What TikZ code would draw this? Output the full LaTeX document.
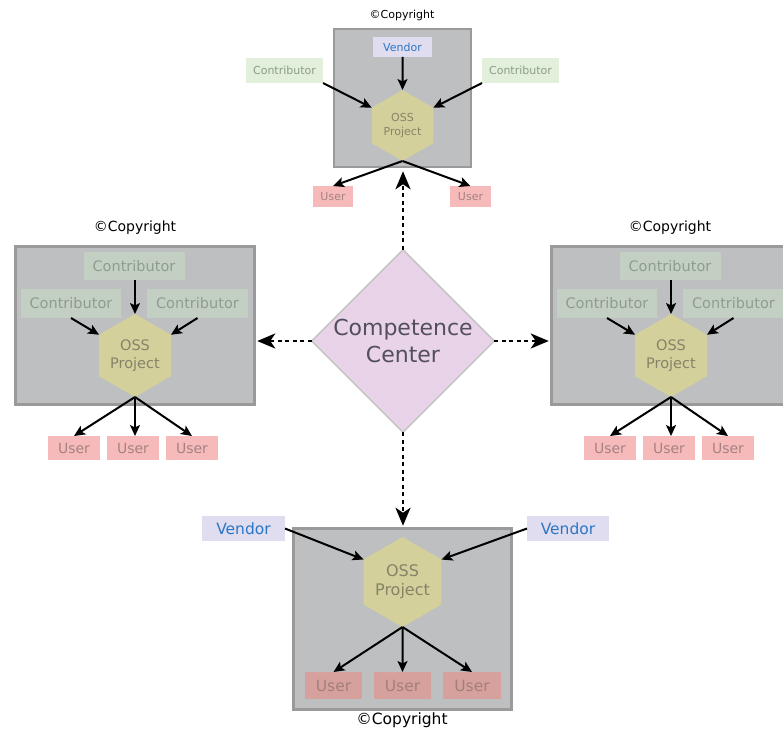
\documentclass[tikz,border=0pt]{standalone}
\usepackage{fontspec}
\setmainfont{DejaVu Sans}
\usetikzlibrary{shapes.geometric,arrows.meta}

\definecolor{boxfill}{HTML}{BEBFC1}
\definecolor{boxline}{HTML}{9A9A9A}
\definecolor{hexfill}{HTML}{D4D09C}
\definecolor{hextext}{HTML}{868468}
\definecolor{cfillout}{HTML}{E2EFDA}
\definecolor{ctextout}{HTML}{8D9B8B}
\definecolor{cfillin}{HTML}{C4CFC3}
\definecolor{ctextin}{HTML}{8E9C8E}
\definecolor{vfill}{HTML}{E1DDF0}
\definecolor{vtext}{HTML}{2A76C6}
\definecolor{ufillout}{HTML}{F7BABA}
\definecolor{utextout}{HTML}{A58282}
\definecolor{ufillin}{HTML}{D6A19D}
\definecolor{utextin}{HTML}{A47F7C}
\definecolor{ccfill}{HTML}{E8D3E8}
\definecolor{ccline}{HTML}{C6C6C6}
\definecolor{cctext}{HTML}{534F5B}

\newcommand{\fsz}[1]{\fontsize{#1}{1.2\dimexpr #1pt\relax}\selectfont}

\tikzset{
  frame/.style={draw=boxline, line width=2.5pt, fill=boxfill, inner sep=0pt},
  lbl/.style={inner sep=0pt, outer sep=0pt, align=center},
  contribout/.style={lbl, fill=cfillout, text=ctextout},
  contribin/.style={lbl, fill=cfillin, text=ctextin},
  vendorbox/.style={lbl, fill=vfill, text=vtext},
  userout/.style={lbl, fill=ufillout, text=utextout},
  userin/.style={lbl, fill=ufillin, text=utextin},
  project/.style={lbl, regular polygon, regular polygon sides=6, shape border rotate=30,
                  fill=hexfill, text=hextext, minimum size=#1},
  center/.style={lbl, diamond, draw=ccline, line width=1.5pt, fill=ccfill, text=cctext},
  flow/.style={-{Stealth[length=11pt,width=10pt,inset=2.5pt]}, line width=2pt, black},
  link/.style={-{Stealth[length=18pt,width=15pt,inset=5pt]}, line width=2.7pt, black,
               dash pattern=on 4pt off 3.5pt},
  copy/.style={lbl, text=black}
}

\begin{document}
\begin{tikzpicture}[x=1pt,y=-1pt]
\useasboundingbox (0,0) rectangle (783,730);
\clip (0,0) rectangle (783,730);

% ---------- top project ----------
\node[frame, minimum width=137pt, minimum height=138pt] (boxT) at (402.5,98) {};
\node[copy, font=\fsz{11}] (cpT) at (402,15) {©Copyright};
\node[vendorbox, minimum width=59pt, minimum height=20pt, font=\fsz{11}] (vT) at (402.5,47) {Vendor};
\node[contribout, minimum width=77pt, minimum height=25pt, font=\fsz{11}] (cT1) at (284.5,70.5) {Contributor};
\node[contribout, minimum width=77pt, minimum height=25pt, font=\fsz{11}] (cT2) at (520.5,70.5) {Contributor};
\node[project=71pt, font=\fsz{11}] (hT) at (402.5,125.5) {OSS\\Project};
\node[userout, minimum width=40pt, minimum height=21pt, font=\fsz{11}] (uT1) at (333,196.5) {User};
\node[userout, minimum width=41pt, minimum height=21pt, font=\fsz{11}] (uT2) at (470.5,196.5) {User};

\draw[flow] (vT.south) -- (hT.north);
\draw[flow] (cT1.south east) -- (hT.150);
\draw[flow] (cT2.south west) -- (hT.30);
\draw[flow] (hT.south) -- (uT1.north);
\draw[flow] (hT.south) -- (uT2.north);

% ---------- left project ----------
\node[frame, minimum width=239pt, minimum height=158pt] (boxL) at (135,325.5) {};
\node[copy, font=\fsz{14}] (cpL) at (135,228) {©Copyright};
\node[contribin, minimum width=101pt, minimum height=28pt, font=\fsz{14.5}] (cL1) at (134,266) {Contributor};
\node[contribin, minimum width=100pt, minimum height=29pt, font=\fsz{14.5}] (cL2) at (71,303.5) {Contributor};
\node[contribin, minimum width=101pt, minimum height=29pt, font=\fsz{14.5}] (cL3) at (197.5,303.5) {Contributor};
\node[project=83pt, font=\fsz{14.5}] (hL) at (135,355.5) {OSS\\Project};
\node[userout, minimum width=52pt, minimum height=24pt, font=\fsz{14}] (uL1) at (74,448) {User};
\node[userout, minimum width=52pt, minimum height=24pt, font=\fsz{14}] (uL2) at (133,448) {User};
\node[userout, minimum width=52pt, minimum height=24pt, font=\fsz{14}] (uL3) at (192,448) {User};

\draw[flow] (hL.north |- cL1.south) -- (hL.north);
\draw[flow] (cL2.south) -- (hL.150);
\draw[flow] (cL3.south) -- (hL.30);
\draw[flow] (hL.south) -- (uL1.north);
\draw[flow] (hL.south) -- (hL.south |- uL2.north);
\draw[flow] (hL.south) -- (uL3.north);

% ---------- right project ----------
\node[frame, minimum width=239pt, minimum height=158pt] (boxR) at (671,325.5) {};
\node[copy, font=\fsz{14}] (cpR) at (670,228) {©Copyright};
\node[contribin, minimum width=101pt, minimum height=28pt, font=\fsz{14.5}] (cR1) at (670,266) {Contributor};
\node[contribin, minimum width=100pt, minimum height=29pt, font=\fsz{14.5}] (cR2) at (607,303.5) {Contributor};
\node[contribin, minimum width=101pt, minimum height=29pt, font=\fsz{14.5}] (cR3) at (733.5,303.5) {Contributor};
\node[project=83pt, font=\fsz{14.5}] (hR) at (671,355.5) {OSS\\Project};
\node[userout, minimum width=52pt, minimum height=24pt, font=\fsz{14}] (uR1) at (610,448) {User};
\node[userout, minimum width=52pt, minimum height=24pt, font=\fsz{14}] (uR2) at (669,448) {User};
\node[userout, minimum width=52pt, minimum height=24pt, font=\fsz{14}] (uR3) at (728,448) {User};

\draw[flow] (hR.north |- cR1.south) -- (hR.north);
\draw[flow] (cR2.south) -- (hR.150);
\draw[flow] (cR3.south) -- (hR.30);
\draw[flow] (hR.south) -- (uR1.north);
\draw[flow] (hR.south) -- (hR.south |- uR2.north);
\draw[flow] (hR.south) -- (uR3.north);

% ---------- bottom project ----------
\node[frame, minimum width=218pt, minimum height=181pt] (boxB) at (402.5,619) {};
\node[copy, font=\fsz{15.5}] (cpB) at (402,720) {©Copyright};
\node[vendorbox, minimum width=83pt, minimum height=25pt, font=\fsz{15.5}] (vB1) at (243.5,528.5) {Vendor};
\node[vendorbox, minimum width=82pt, minimum height=25pt, font=\fsz{15.5}] (vB2) at (568,528.5) {Vendor};
\node[project=90pt, font=\fsz{16}] (hB) at (402.5,582) {OSS\\Project};
\node[userin, minimum width=57pt, minimum height=27pt, font=\fsz{15.5}] (uB1) at (333.5,685.5) {User};
\node[userin, minimum width=57pt, minimum height=27pt, font=\fsz{15.5}] (uB2) at (402.5,685.5) {User};
\node[userin, minimum width=58pt, minimum height=27pt, font=\fsz{15.5}] (uB3) at (472,685.5) {User};

\draw[flow] (vB1.east) -- (hB.150);
\draw[flow] (vB2.west) -- (hB.30);
\draw[flow] (hB.south) -- (uB1.north);
\draw[flow] (hB.south) -- (uB2.north);
\draw[flow] (hB.south) -- (uB3.north);

% ---------- competence center ----------
\node[center, minimum width=179pt, minimum height=180pt, font=\fsz{22}] (cc) at (403,341) {Competence\\Center};

\draw[link, shorten >=3pt] (cc.north) -- (cc.north |- boxT.south);
\draw[link, shorten >=1.5pt] (cc.west) -- (cc.west -| boxL.east);
\draw[link, shorten >=1.5pt] (cc.east) -- (cc.east -| boxR.west);
\draw[link, shorten >=1.5pt] (cc.south) -- (cc.south |- boxB.north);
\end{tikzpicture}
\end{document}
